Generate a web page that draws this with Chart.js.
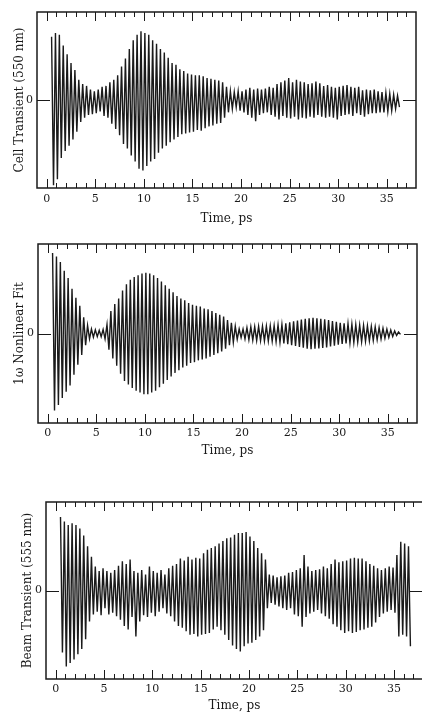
<!DOCTYPE html>
<html>
<head>
<meta charset="utf-8">
<script src="https://cdn.jsdelivr.net/npm/chart.js@4.4.1/dist/chart.umd.min.js"></script>
<style>
html,body{margin:0;padding:0;background:#fff;overflow:hidden;width:422px;height:713px;}
canvas{position:absolute;left:0;}
</style>
</head>
<body>
<canvas id="c1" width="422" height="230" style="top:0px"></canvas>
<canvas id="c2" width="422" height="230" style="top:230px"></canvas>
<canvas id="c3" width="430" height="243" style="top:470px"></canvas>
<script>
// ---- data (signed oscillation extrema) ----
const timeStep = 0.2;            // ps between successive extrema
const cellStart = 0.5;
const cellPeaks = [
 0.72,-0.97,0.76,-0.9,0.74, -0.66,0.62,-0.58,0.52,-0.52,
 0.42,-0.45,0.34,-0.36,0.23, -0.25,0.18,-0.2,0.16,-0.17,
 0.12,-0.16,0.1,-0.15,0.12, -0.13,0.15,-0.18,0.16,-0.2,
 0.2,-0.27,0.23,-0.33,0.28, -0.4,0.38,-0.5,0.47,-0.55,
 0.58,-0.63,0.68,-0.7,0.74, -0.78,0.78,-0.8,0.76,-0.75,
 0.74,-0.7,0.68,-0.67,0.64, -0.6,0.58,-0.55,0.54,-0.52,
 0.48,-0.48,0.42,-0.45,0.4, -0.42,0.35,-0.39,0.33,-0.38,
 0.3,-0.37,0.29,-0.36,0.28, -0.34,0.28,-0.35,0.27,-0.32,
 0.25,-0.3,0.24,-0.29,0.23, -0.27,0.22,-0.26,0.2,-0.2,
 0.15,-0.14,0.1,-0.1,0.09, -0.08,0.1,-0.12,0.1,-0.14,
 0.12,-0.17,0.14,-0.2,0.12, -0.24,0.13,-0.17,0.12,-0.15,
 0.13,-0.14,0.15,-0.17,0.14, -0.19,0.18,-0.22,0.2,-0.18,
 0.22,-0.2,0.25,-0.21,0.2, -0.19,0.23,-0.22,0.21,-0.2,
 0.2,-0.21,0.18,-0.19,0.19, -0.2,0.21,-0.17,0.19,-0.19,
 0.16,-0.2,0.17,-0.19,0.15, -0.2,0.14,-0.22,0.15,-0.18,
 0.16,-0.17,0.17,-0.16,0.15, -0.18,0.14,-0.15,0.15,-0.17,
 0.11,-0.19,0.12,-0.16,0.11, -0.15,0.12,-0.15,0.1,-0.14,
 0.09,-0.14,0.08,-0.13,0.07, -0.12,0.06,-0.1,0.05,-0.08
];
const fitStart = 0.5;
const fitPeaks = [
 0.9,-0.86,0.86,-0.8,0.8, -0.72,0.7,-0.65,0.62,-0.58,
 0.5,-0.46,0.4,-0.35,0.31, -0.24,0.18,-0.13,0.09,-0.06,
 0.05,-0.04,0.04,-0.035,0.035, -0.035,0.045,-0.06,0.1,-0.18,
 0.25,-0.28,0.33,-0.36,0.39, -0.45,0.48,-0.53,0.55,-0.57,
 0.6,-0.61,0.63,-0.64,0.65, -0.66,0.67,-0.68,0.68,-0.68,
 0.67,-0.66,0.65,-0.64,0.62, -0.6,0.58,-0.56,0.54,-0.52,
 0.5,-0.48,0.46,-0.44,0.42, -0.41,0.39,-0.38,0.37,-0.36,
 0.34,-0.33,0.32,-0.32,0.31, -0.3,0.3,-0.29,0.28,-0.28,
 0.27,-0.26,0.25,-0.24,0.23, -0.22,0.21,-0.2,0.19,-0.17,
 0.15,-0.13,0.12,-0.1,0.08, -0.065,0.05,-0.045,0.05,-0.06,
 0.065,-0.07,0.075,-0.075,0.075, -0.078,0.08,-0.08,0.08,-0.082,
 0.082,-0.084,0.085,-0.086,0.088, -0.09,0.095,-0.1,0.1,-0.11,
 0.115,-0.12,0.125,-0.13,0.135, -0.14,0.145,-0.15,0.155,-0.16,
 0.165,-0.17,0.17,-0.175,0.175, -0.17,0.17,-0.168,0.165,-0.162,
 0.16,-0.155,0.15,-0.145,0.14, -0.135,0.13,-0.125,0.12,-0.117,
 0.113,-0.11,0.108,-0.105,0.103, -0.1,0.098,-0.096,0.094,-0.092,
 0.09,-0.088,0.085,-0.082,0.08, -0.077,0.074,-0.07,0.066,-0.062,
 0.058,-0.053,0.048,-0.043,0.038, -0.033,0.028,-0.022,0.016,-0.01
];
const beamStart = 0.5;
const beamPeaks = [
 0.83,-0.7,0.78,-0.86,0.74, -0.82,0.76,-0.78,0.74,-0.72,
 0.7,-0.66,0.62,-0.55,0.5, -0.35,0.38,-0.27,0.27,-0.24,
 0.22,-0.28,0.25,-0.2,0.22, -0.27,0.2,-0.25,0.23,-0.29,
 0.28,-0.33,0.33,-0.4,0.3, -0.44,0.35,-0.3,0.22,-0.52,
 0.2,-0.35,0.23,-0.28,0.18, -0.3,0.27,-0.25,0.22,-0.29,
 0.2,-0.24,0.23,-0.2,0.18, -0.26,0.25,-0.29,0.28,-0.35,
 0.3,-0.4,0.36,-0.42,0.34, -0.46,0.38,-0.5,0.35,-0.49,
 0.37,-0.52,0.36,-0.5,0.42, -0.49,0.46,-0.48,0.48,-0.44,
 0.5,-0.41,0.53,-0.45,0.56, -0.5,0.59,-0.56,0.6,-0.62,
 0.63,-0.66,0.65,-0.69,0.65, -0.63,0.66,-0.6,0.61,-0.59,
 0.56,-0.56,0.48,-0.52,0.42, -0.45,0.35,-0.2,0.18,-0.14,
 0.17,-0.16,0.15,-0.18,0.16, -0.2,0.17,-0.22,0.2,-0.2,
 0.21,-0.27,0.23,-0.29,0.25, -0.41,0.4,-0.3,0.27,-0.26,
 0.22,-0.24,0.23,-0.22,0.24, -0.26,0.27,-0.29,0.25,-0.32,
 0.3,-0.38,0.35,-0.41,0.32, -0.45,0.33,-0.48,0.34,-0.46,
 0.36,-0.48,0.37,-0.47,0.36, -0.45,0.36,-0.44,0.33,-0.42,
 0.3,-0.41,0.28,-0.36,0.25, -0.3,0.23,-0.26,0.25,-0.24,
 0.27,-0.22,0.26,-0.25,0.4, -0.52,0.55,-0.5,0.53,-0.52,
 0.5,-0.63
];
const xTickValues = [0,5,10,15,20,25,30,35];
const xMinorTicks = [0,1,2,3,4,5,6,7,8,9,10,11,12,13,14,15,16,17,18,19,20,21,22,23,24,25,26,27,28,29,30,31,32,33,34,35,36,37];
const yTickValues = [0];
const xTitle = 'Time, ps';
const yTitles = ['Cell Transient (550 nm)', '1\u03c9 Nonlinear Fit', 'Beam Transient (555 nm)'];

// ---- drawing ----
const INK = '#1a1a1a';
const FONT = 'DejaVu Serif';

const frameTicks = {
  id: 'frameTicks',
  afterDatasetsDraw(chart) {
    const {ctx, chartArea: a, scales: {x, y}} = chart;
    ctx.save();
    ctx.strokeStyle = INK;
    ctx.lineWidth = 1;
    ctx.beginPath();
    for (const v of xMinorTicks) {
      const px = Math.round(x.getPixelForValue(v)) + 0.5;
      const len = v % 5 === 0 ? 9 : 5;
      ctx.moveTo(px, a.top); ctx.lineTo(px, a.top + len);
      ctx.moveTo(px, a.bottom); ctx.lineTo(px, a.bottom - len);
    }
    for (const v of yTickValues) {
      const py = Math.round(y.getPixelForValue(v)) + 0.5;
      ctx.moveTo(a.left, py); ctx.lineTo(a.left + 13, py);
      ctx.moveTo(a.right, py); ctx.lineTo(a.right - 13, py);
    }
    ctx.stroke();
    ctx.lineWidth = 1.5;
    ctx.strokeRect(a.left, a.top, a.right - a.left, a.bottom - a.top);
    ctx.restore();
  }
};

function makeChart(id, peaks, start, yTitle, pad, yWidth, xHeight, titlePadX, tickPadX, titlePadY) {
  const pts = peaks.map((v, i) => ({x: start + i * timeStep, y: v}));
  return new Chart(document.getElementById(id), {
    type: 'line',
    data: {datasets: [{data: pts, borderColor: INK, borderWidth: 1.4, pointRadius: 0, tension: 0, fill: false}]},
    options: {
      responsive: false, animation: false, devicePixelRatio: 1,
      layout: {padding: pad},
      plugins: {legend: {display: false}, tooltip: {enabled: false}},
      scales: {
        x: {
          type: 'linear', min: -1, max: 38,
          afterBuildTicks: s => { s.ticks = xTickValues.map(v => ({value: v})); },
          afterFit: s => { s.height = xHeight; },
          grid: {display: false, drawTicks: false}, border: {display: false},
          ticks: {color: INK, font: {family: FONT, size: 11}, padding: tickPadX, maxRotation: 0, autoSkip: false},
          title: {display: true, text: xTitle, color: INK, font: {family: FONT, size: 12}, padding: titlePadX}
        },
        y: {
          type: 'linear', min: -1, max: 1,
          afterBuildTicks: s => { s.ticks = yTickValues.map(v => ({value: v})); },
          afterFit: s => { s.width = yWidth; },
          grid: {display: false, drawTicks: false}, border: {display: false},
          ticks: {color: INK, font: {family: FONT, size: 11}, padding: 4},
          title: {display: true, text: yTitle, color: INK, font: {family: FONT, size: 12}, padding: {top: titlePadY, bottom: 0}}
        }
      }
    },
    plugins: [frameTicks]
  });
}

makeChart('c1', cellPeaks, cellStart, yTitles[0], {top: 12, right: 6, left: 0, bottom: 0}, 37, 42, {top: 4, bottom: 4}, 5, 13);
makeChart('c2', fitPeaks, fitStart, yTitles[1], {top: 14, right: 5, left: 0, bottom: 0}, 38, 37, {top: 2, bottom: 2}, 4, 13);
makeChart('c3', beamPeaks, beamStart, yTitles[2], {top: 32, right: 7, left: 0, bottom: 0}, 46, 34, {top: 1, bottom: 0}, 4, 21);
</script>
</body>
</html>
